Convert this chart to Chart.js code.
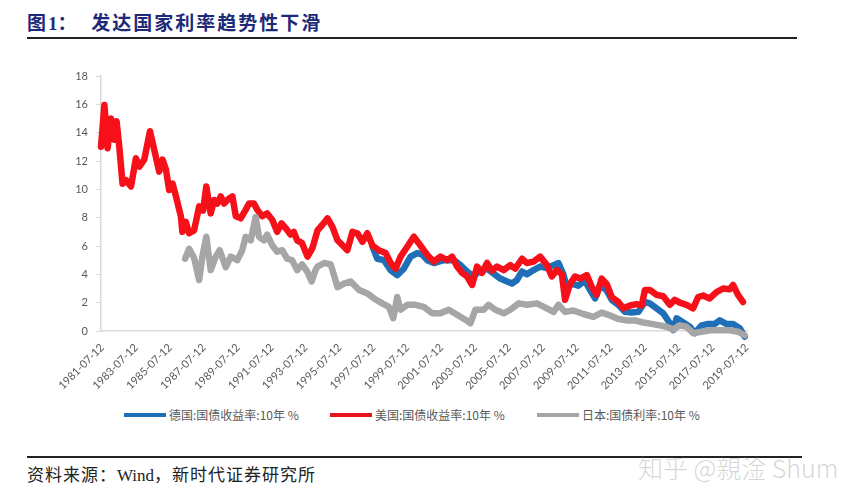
<!DOCTYPE html>
<html lang="zh">
<head>
<meta charset="UTF-8">
<title>发达国家利率趋势性下滑</title>
<script src="https://cdn.jsdelivr.net/npm/chart.js@4.4.3/dist/chart.umd.min.js"></script>
<style>
  * { box-sizing: border-box; margin: 0; padding: 0; }
  body { width: 866px; height: 497px; background: #fff; position: relative; overflow: hidden; font-family: 'Noto Sans CJK SC', sans-serif; }
  .title { position: absolute; left: 27px; top: 8px; font-size: 19px; font-weight: 700; color: #1e2a78; letter-spacing: 2px; white-space: nowrap; }
  .title .num { font-family: 'Liberation Serif', serif; font-weight: 700; letter-spacing: 0; }
  .rule { position: absolute; left: 27px; height: 2px; background: #222; }
  .wrap { position: absolute; left: 0; top: 0; width: 866px; height: 400px; }
  .legend { position: absolute; top: 406px; left: 0; width: 866px; height: 18px; font-size: 12px; color: #595959; }
  .legend .item { position: absolute; top: 0; display: flex; align-items: center; white-space: nowrap; }
  .legend .line { width: 42px; height: 4px; margin-right: 3px; }
  .source { position: absolute; left: 27px; top: 461px; font-size: 17px; color: #222; letter-spacing: 1px; white-space: nowrap; }
  .source .latin { font-family: 'Liberation Serif', serif; letter-spacing: 0; }
  .mark { position: absolute; left: 638px; top: 449px; font-size: 25px; color: rgba(150,150,150,0.4); white-space: nowrap; font-weight: 300; }
</style>
</head>
<body>
<div class="title">图<span class="num">1</span>：&nbsp;&nbsp;发达国家利率趋势性下滑</div>
<div class="rule" style="top:37px;width:770px"></div>
<div class="wrap"><canvas id="c"></canvas></div>
<div class="legend">
  <div class="item" style="left:124px"><span class="line" style="background:#1f6fb8"></span>德国:国债收益率:10年 %</div>
  <div class="item" style="left:330px"><span class="line" style="background:#e8141b"></span>美国:国债收益率:10年 %</div>
  <div class="item" style="left:537px"><span class="line" style="background:#a6a6a6"></span>日本:国债利率:10年 %</div>
</div>
<div class="rule" style="top:456px;width:775px"></div>
<div class="source">资料来源：<span class="latin">Wind</span>，新时代证券研究所</div>
<div class="mark">知乎 @親淦 Shum</div>

<script>
// tick labels on the date axis
const tickLabels = ['1981-07-12', '1983-07-12', '1985-07-12', '1987-07-12', '1989-07-12', '1991-07-12',
  '1993-07-12', '1995-07-12', '1997-07-12', '1999-07-12', '2001-07-12', '2003-07-12', '2005-07-12',
  '2007-07-12', '2009-07-12', '2011-07-12', '2013-07-12', '2015-07-12', '2017-07-12', '2019-07-12'];

// 美国 10Y (x = decimal year)
const usYear = [1981.45, 1981.65, 1981.84, 1982.04, 1982.24, 1982.37, 1982.53, 1982.72, 1982.92, 1983.22,
  1983.51, 1983.71, 1984.0, 1984.34, 1984.59, 1984.88, 1985.08, 1985.28, 1985.47, 1985.67,
  1985.87, 1986.16, 1986.25, 1986.45, 1986.65, 1986.94, 1987.24, 1987.47, 1987.66, 1987.92,
  1988.12, 1988.31, 1988.51, 1988.71, 1989.0, 1989.2, 1989.4, 1989.69, 1989.98, 1990.18,
  1990.47, 1990.67, 1990.96, 1991.25, 1991.55, 1991.84, 1992.1, 1992.35, 1992.63, 1992.82,
  1993.02, 1993.31, 1993.63, 1993.92, 1994.22, 1994.51, 1994.81, 1995.1, 1995.4, 1995.69,
  1995.98, 1996.28, 1996.57, 1996.87, 1997.16, 1997.45, 1997.84, 1998.24, 1998.53, 1998.82,
  1999.12, 1999.51, 1999.9, 2000.19, 2000.49, 2000.78, 2001.08, 2001.47, 2001.87, 2002.16,
  2002.45, 2002.75, 2003.04, 2003.34, 2003.63, 2003.92, 2004.22, 2004.51, 2004.81, 2005.2,
  2005.59, 2005.88, 2006.28, 2006.57, 2006.96, 2007.35, 2007.75, 2008.04, 2008.33, 2008.63,
  2008.82, 2009.12, 2009.41, 2009.71, 2010.1, 2010.4, 2010.69, 2010.98, 2011.28, 2011.57,
  2011.96, 2012.26, 2012.65, 2013.04, 2013.34, 2013.53, 2013.82, 2014.22, 2014.61, 2015.0,
  2015.29, 2015.59, 2015.98, 2016.37, 2016.67, 2016.96, 2017.35, 2017.75, 2018.14, 2018.53,
  2018.73, 2019.02, 2019.31];
const usYield = [13.0, 15.95, 12.9, 15.0, 13.5, 14.8, 13.0, 10.4, 10.65, 10.2,
  12.2, 11.6, 12.1, 14.1, 12.8, 11.25, 12.1, 11.4, 9.95, 10.4,
  9.5, 8.1, 7.0, 7.7, 6.9, 7.1, 8.8, 8.5, 10.2, 8.3,
  9.25, 9.0, 9.5, 9.0, 9.35, 9.5, 8.1, 7.95, 8.55, 9.0,
  9.0, 8.55, 8.1, 8.3, 7.85, 7.0, 7.6, 7.25, 6.8, 7.0,
  6.4, 6.2, 5.25, 5.85, 7.1, 7.5, 7.95, 7.35, 6.4, 6.05,
  5.7, 7.0, 6.9, 6.3, 6.9, 6.05, 5.7, 5.5, 4.8, 4.4,
  5.25, 5.95, 6.65, 6.2, 5.7, 5.25, 4.9, 5.25, 5.0, 5.25,
  4.55, 4.1, 3.85, 3.25, 4.55, 4.1, 4.8, 4.25, 4.55, 4.3,
  4.65, 4.4, 5.1, 4.8, 4.9, 5.25, 4.65, 3.85, 4.3, 4.0,
  2.2, 3.35, 3.85, 3.7, 3.95, 3.1, 2.55, 3.7, 3.3, 2.4,
  2.05, 1.6, 1.8, 1.9, 1.8, 2.9, 2.9, 2.55, 2.45, 1.85,
  2.2, 2.0, 1.85, 1.6, 2.4, 2.5, 2.3, 2.75, 3.0, 2.95,
  3.25, 2.55, 2.05];

// 德国 10Y
const deYear = [1997.45, 1997.75, 1998.14, 1998.53, 1998.92, 1999.31, 1999.71, 2000.1, 2000.39, 2000.69,
  2001.08, 2001.67, 2002.26, 2002.65, 2003.04, 2003.43, 2003.83, 2004.22, 2004.61, 2005.0,
  2005.4, 2005.69, 2005.98, 2006.28, 2006.57, 2006.96, 2007.35, 2007.75, 2008.14, 2008.43,
  2008.72, 2008.92, 2009.22, 2009.6, 2010.0, 2010.29, 2010.59, 2010.88, 2011.28, 2011.57,
  2011.96, 2012.35, 2012.75, 2013.14, 2013.53, 2013.82, 2014.22, 2014.61, 2015.0, 2015.2,
  2015.4, 2015.79, 2016.18, 2016.47, 2016.87, 2017.26, 2017.65, 2017.94, 2018.33, 2018.73,
  2019.12, 2019.41];
const deYield = [6.0, 5.1, 5.0, 4.3, 3.95, 4.4, 5.25, 5.5, 5.4, 5.0,
  4.8, 5.0, 5.0, 4.65, 4.2, 3.85, 4.3, 4.4, 4.05, 3.7,
  3.5, 3.35, 3.6, 4.2, 4.0, 4.3, 4.55, 4.45, 4.65, 4.8,
  4.0, 3.1, 3.35, 3.2, 3.55, 2.9, 2.3, 3.25, 2.85, 2.2,
  1.85, 1.35, 1.3, 1.35, 2.05, 1.95, 1.6, 1.25, 0.55, 0.07,
  0.9, 0.6, 0.3, -0.15, 0.4, 0.5, 0.5, 0.75, 0.5, 0.5,
  0.2, -0.4];

// 日本 10Y
const jpYear = [1986.41, 1986.65, 1986.94, 1987.24, 1987.43, 1987.66, 1987.92, 1988.22, 1988.45, 1988.81,
  1989.1, 1989.49, 1989.78, 1989.98, 1990.28, 1990.57, 1990.77, 1991.06, 1991.25, 1991.55,
  1991.84, 1992.14, 1992.43, 1992.72, 1993.02, 1993.31, 1993.61, 1993.87, 1994.1, 1994.22,
  1994.61, 1995.0, 1995.4, 1995.78, 1996.18, 1996.67, 1997.16, 1997.55, 1998.04, 1998.43,
  1998.69, 1998.92, 1999.12, 1999.51, 2000.0, 2000.49, 2000.98, 2001.47, 2001.96, 2002.45,
  2002.94, 2003.24, 2003.53, 2004.02, 2004.31, 2004.71, 2005.2, 2005.59, 2006.08, 2006.57,
  2007.16, 2007.75, 2008.14, 2008.43, 2008.82, 2009.31, 2009.9, 2010.49, 2010.98, 2011.47,
  2011.96, 2012.45, 2012.94, 2013.43, 2013.92, 2014.41, 2014.8, 2015.2, 2015.59, 2015.98,
  2016.37, 2016.87, 2017.35, 2017.94, 2018.53, 2019.02, 2019.41];
const jpYield = [5.1, 5.8, 5.15, 3.6, 5.25, 6.65, 4.3, 5.25, 5.7, 4.5,
  5.25, 5.0, 5.7, 6.65, 6.4, 8.05, 6.65, 6.4, 6.8, 6.05,
  5.6, 5.7, 5.1, 5.0, 4.3, 4.7, 4.2, 3.5, 4.3, 4.55,
  4.8, 4.7, 3.1, 3.35, 3.5, 2.9, 2.65, 2.3, 1.95, 1.7,
  0.9, 2.4, 1.5, 1.85, 1.85, 1.7, 1.25, 1.25, 1.5, 1.15,
  0.8, 0.55, 1.5, 1.5, 1.85, 1.5, 1.25, 1.5, 1.95, 1.85,
  1.95, 1.6, 1.35, 1.85, 1.35, 1.45, 1.2, 1.0, 1.3, 1.1,
  0.85, 0.75, 0.75, 0.6, 0.5, 0.4, 0.3, 0.1, 0.4, 0.3,
  -0.15, -0.05, 0.05, 0.05, 0.05, -0.05, -0.3];

const toPts = (xs, ys) => xs.map((x, i) => ({ x, y: ys[i] }));
const tickPos = tickLabels.map(s => {
  const [y, m, d] = s.split('-').map(Number);
  return y + (m - 1 + (d - 1) / 31) / 12;
});

const lineStyle = { borderWidth: 6.5, pointRadius: 0, tension: 0, borderJoinStyle: 'round', borderCapStyle: 'round', clip: false };

new Chart(document.getElementById('c'), {
  type: 'line',
  data: {
    datasets: [
      { label: '德国:国债收益率:10年 %', data: toPts(deYear, deYield), borderColor: '#1f6fb8', order: 3, ...lineStyle },
      { label: '美国:国债收益率:10年 %', data: toPts(usYear, usYield), borderColor: '#f5101a', order: 2, ...lineStyle },
      { label: '日本:国债利率:10年 %', data: toPts(jpYear, jpYield), borderColor: '#a6a6a6', order: 1, ...lineStyle }
    ]
  },
  options: {
    responsive: true,
    maintainAspectRatio: false,
    animation: false,
    layout: { padding: { top: 76, right: 119, left: 0, bottom: 0 } },
    plugins: { legend: { display: false }, tooltip: { enabled: false } },
    scales: {
      x: {
        type: 'linear',
        min: 1981.45,
        max: 2019.55,
        afterBuildTicks: axis => { axis.ticks = tickPos.map(v => ({ value: v })); },
        afterFit: s => { s.height = 69; },
        ticks: {
          autoSkip: false,
          minRotation: 45,
          maxRotation: 45,
          padding: 2,
          color: '#595959',
          font: { family: 'Lato', size: 11 },
          callback: (v, i) => tickLabels[i]
        },
        grid: { display: false },
        border: { display: true, color: '#d9d9d9', width: 1.5 }
      },
      y: {
        min: 0,
        max: 18,
        afterFit: s => { s.width = 101; },
        ticks: { stepSize: 2, padding: 8, color: '#595959', font: { family: 'Lato', size: 11 } },
        grid: { drawOnChartArea: false, tickLength: 5, color: '#d9d9d9' },
        border: { display: true, color: '#d9d9d9', width: 1.5 }
      }
    }
  }
});
</script>
</body>
</html>
